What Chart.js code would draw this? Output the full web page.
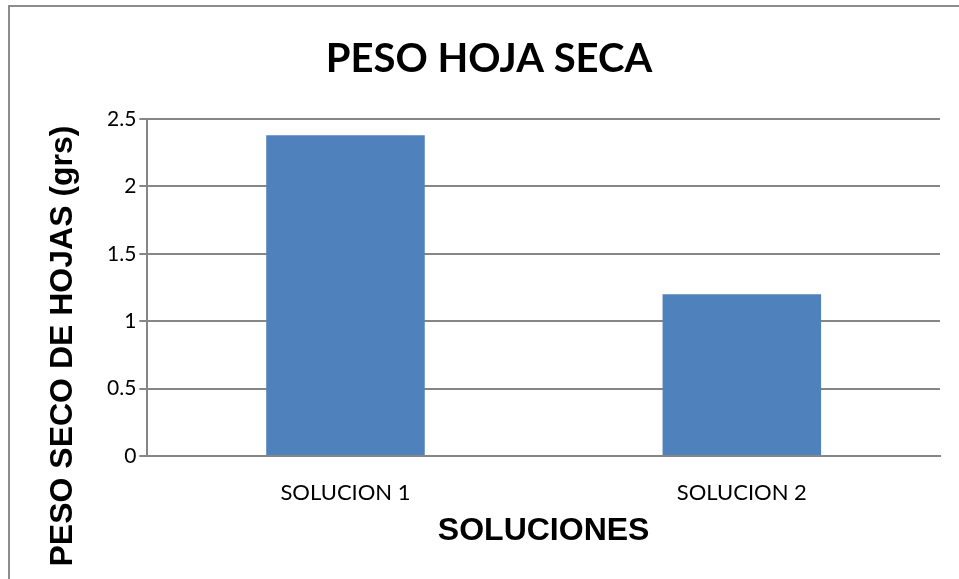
<!DOCTYPE html>
<html>
<head>
<meta charset="utf-8">
<script src="https://cdn.jsdelivr.net/npm/chart.js@4"></script>
<style>
  html, body { margin: 0; padding: 0; background: #fff; }
  #wrap { width: 959px; height: 579px; }
</style>
</head>
<body>
<div id="wrap"><canvas id="chart" width="959" height="579"></canvas></div>
<script>
const categories = ["SOLUCION 1", "SOLUCION 2"];
const pesoSeco = [2.38, 1.2];
const yTicks = [0, 0.5, 1, 1.5, 2, 2.5];
const chartTitle = "PESO HOJA SECA";
const xTitle = "SOLUCIONES";
const yTitle = "PESO SECO DE HOJAS (grs)";

const gridGray = "#868686";

// frame + titles that Chart.js can't place the same way
const decor = {
  id: "decor",
  afterDraw(chart) {
    const ctx = chart.ctx;
    ctx.save();
    ctx.strokeStyle = "#8c8c8c";
    ctx.lineWidth = 2;
    ctx.strokeRect(9, 6, 1000, 640);

    ctx.fillStyle = "#000";
    ctx.textAlign = "center";
    ctx.textBaseline = "middle";
    ctx.font = "bold 40px Lato";
    ctx.fillText(chartTitle, 489, 59);

    ctx.translate(63, 346);
    ctx.rotate(-Math.PI / 2);
    ctx.font = "bold 32px 'Liberation Sans'";
    ctx.fillText(yTitle, 0, 0);
    ctx.restore();
  }
};

new Chart(document.getElementById("chart"), {
  type: "bar",
  data: {
    labels: categories,
    datasets: [{
      label: chartTitle,
      data: pesoSeco,
      backgroundColor: "#4F81BD",
      barPercentage: 0.4,
      categoryPercentage: 1
    }]
  },
  options: {
    responsive: false,
    animation: false,
    layout: { padding: { left: 104, right: 19, top: 119, bottom: 29 } },
    plugins: {
      legend: { display: false },
      tooltip: { enabled: false }
    },
    scales: {
      x: {
        afterFit: (s) => { s.height = 94; },
        grid: { display: false },
        border: { display: true, color: gridGray, width: 2 },
        ticks: { color: "#000", padding: 16, font: { family: "Lato", size: 22 } },
        title: {
          display: true, text: xTitle, color: "#000",
          padding: { top: 0, bottom: 0 },
          font: { family: "'Liberation Sans'", size: 32, weight: "bold" }
        }
      },
      y: {
        min: 0, max: 2.5,
        afterBuildTicks: (s) => { s.ticks = yTicks.map(v => ({ value: v })); },
        grid: { color: gridGray, lineWidth: 2, tickLength: 8 },
        border: { display: true, color: gridGray, width: 2 },
        ticks: {
          color: "#000", padding: 3,
          font: { family: "Lato", size: 21 },
          callback: (v) => String(v)
        }
      }
    }
  },
  plugins: [decor]
});
</script>
</body>
</html>
